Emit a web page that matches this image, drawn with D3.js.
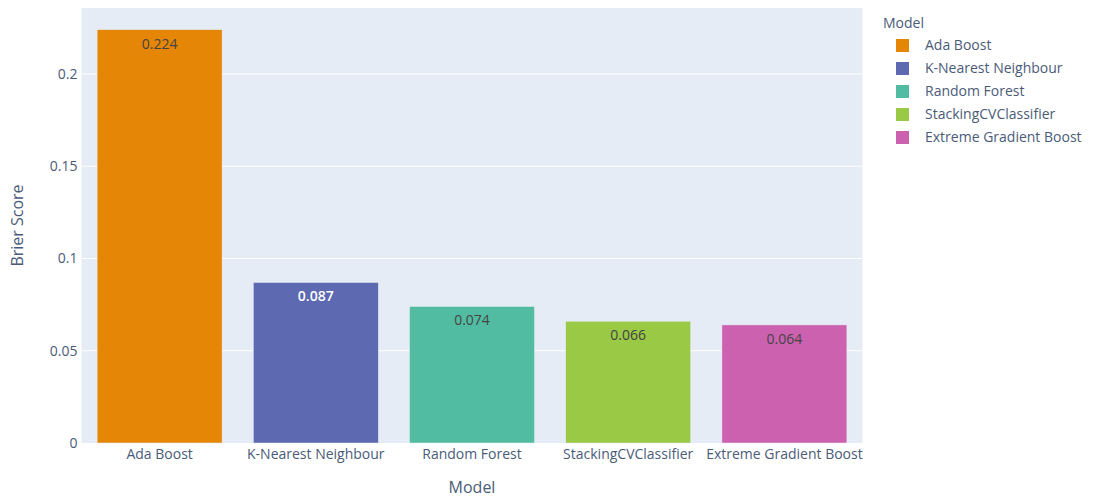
<!DOCTYPE html>
<html><head><meta charset="utf-8">
<script src="https://cdn.jsdelivr.net/npm/d3@7"></script>
<style>body{margin:0;background:#fff}svg{display:block}text{font-family:"Open Sans",sans-serif}</style>
</head><body><svg id="c" width="1095" height="498"></svg>
<script>
const categories = ["Ada Boost","K-Nearest Neighbour","Random Forest","StackingCVClassifier","Extreme Gradient Boost"];
const values = [0.224,0.087,0.074,0.066,0.064];
const labels = ["0.224","0.087","0.074","0.066","0.064"];
const colors = ["#E58606","#5D69B1","#52BCA3","#99C945","#CC61B0"];
const textColors = ["#444","#fff","#444","#444","#444"];
const yTicks = [0,0.05,0.1,0.15,0.2];
const yTickLabels = ["0","0.05","0.1","0.15","0.2"];

const svg = d3.select("#c");
const L=81.5, R=862.5, T=8, B=443;
const x = d3.scaleBand().domain(categories).range([L,R]).paddingInner(0.2).paddingOuter(0.1);
const y = d3.scaleLinear().domain([0, d3.max(values)*1.0525]).range([B,T]);
const fc = "#4a5b78";

svg.append("rect").attr("x",L).attr("y",T).attr("width",R-L).attr("height",B-T).attr("fill","#E5ECF6");
svg.append("g").selectAll("line").data(yTicks.slice(1)).join("line")
  .attr("x1",L).attr("x2",R).attr("y1",d=>y(d)).attr("y2",d=>y(d)).attr("stroke","#fff").attr("stroke-width",1);

const yAxis = d3.axisLeft(y).tickValues(yTicks).tickFormat((d,i)=>yTickLabels[i]).tickSize(0).tickPadding(3);
const gy = svg.append("g").attr("transform",`translate(${L-1},0)`).call(yAxis);
gy.select(".domain").remove();
gy.selectAll("text").attr("fill",fc).attr("font-size",14).attr("font-family","Open Sans");

const xAxis = d3.axisBottom(x).tickSize(0).tickPadding(6);
const gx = svg.append("g").attr("transform",`translate(0,${B})`).call(xAxis);
gx.select(".domain").remove();
gx.selectAll("text").attr("fill",fc).attr("font-size",14).attr("font-family","Open Sans");

svg.append("g").selectAll("rect").data(categories).join("rect")
  .attr("x",d=>x(d)).attr("width",x.bandwidth())
  .attr("y",(d,i)=>y(values[i])).attr("height",(d,i)=>y(0)-y(values[i]))
  .attr("fill",(d,i)=>colors[i]).attr("stroke","#E5ECF6").attr("stroke-width",0.5);

svg.append("g").selectAll("text").data(categories).join("text")
  .attr("x",d=>x(d)+x.bandwidth()/2).attr("y",(d,i)=>y(values[i])+19)
  .attr("text-anchor","middle").attr("font-size",14)
  .attr("font-weight",(d,i)=>textColors[i]==="#fff"?600:400)
  .attr("fill",(d,i)=>textColors[i]).text((d,i)=>labels[i]);

svg.append("text").attr("transform",`translate(23,${(T+B)/2}) rotate(-90)`)
  .attr("text-anchor","middle").attr("font-size",16).attr("fill",fc).text("Brier Score");
svg.append("text").attr("x",(L+R)/2).attr("y",493).attr("text-anchor","middle")
  .attr("font-size",16).attr("fill",fc).text("Model");

const lg = svg.append("g");
lg.append("text").attr("x",883).attr("y",28).attr("font-size",14).attr("fill",fc).text("Model");
const items = lg.selectAll("g").data(categories).join("g")
  .attr("transform",(d,i)=>`translate(0,${45+i*23})`);
items.append("rect").attr("x",896).attr("y",-6).attr("width",13).attr("height",13).attr("fill",(d,i)=>colors[i]);
items.append("text").attr("x",925).attr("y",5).attr("font-size",14).attr("fill",fc).text(d=>d);
</script></body></html>
